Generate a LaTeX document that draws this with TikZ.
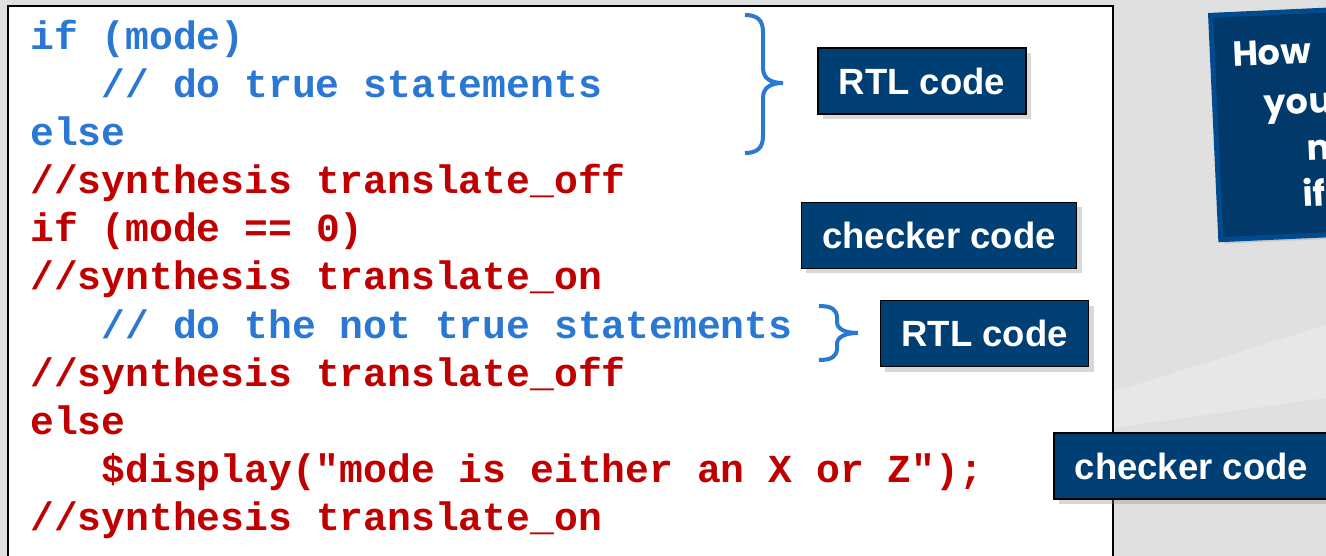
\documentclass[tikz,border=0pt]{standalone}
\usepackage{fontspec}
\setmainfont{Liberation Sans}
\newfontfamily\codefont{Liberation Mono}
\newfontfamily\notefont{Poppins}
\usetikzlibrary{shadows}
\definecolor{rtlblue}{HTML}{2A78D4}
\definecolor{chkred}{HTML}{C00000}
\definecolor{tagnavy}{HTML}{003F73}
\definecolor{notenavy}{HTML}{00396A}
\definecolor{noteedge}{HTML}{004A8E}

\begin{document}
\begin{tikzpicture}[x=1pt,y=-1pt,
  rtl/.style={font=\codefont\bfseries\fontsize{39.7}{40}\selectfont,text=rtlblue,anchor=base west,inner sep=0pt},
  chk/.style={rtl,text=chkred},
  tag/.style={draw=black,line width=1.5pt,fill=tagnavy,text=white,font=\bfseries\fontsize{36.5}{40}\selectfont,
    inner xsep=21pt,minimum height=66pt,drop shadow={shadow xshift=5pt,shadow yshift=-5pt,opacity=0.3}},
  curly/.style={draw=rtlblue,line width=4pt},
  notetext/.style={font=\notefont\bfseries\fontsize{35}{40}\selectfont,text=white,anchor=base west,inner sep=0pt,transform shape}]
    \clip (0,0) rectangle (1326,556);
    % slide background
    \fill[black!12] (0,0) rectangle (1326,556);
    \fill[black!9.5] (1113,392) -- (1326,325) -- (1326,398) -- (1113,428) -- cycle;
    % code listing
    \draw[line width=2.5pt,fill=white] (8,6) rectangle (1113,600);
    \node[rtl] (l1) at (30,50) {if (mode)};
    \node[rtl] (l2) at (101.4,98) {// do true statements};
    \node[rtl] (l3) at (30,146) {else};
    \node[chk] (l4) at (30,194) {//synthesis translate\_off};
    \node[chk] (l5) at (30,242) {if (mode == 0)};
    \node[chk] (l6) at (30,290) {//synthesis translate\_on};
    \node[rtl] (l7) at (101.4,338) {// do the not true statements};
    \node[chk] (l8) at (30,386) {//synthesis translate\_off};
    \node[chk] (l9) at (30,434) {else};
    \node[chk] (l10) at (101.4,482) {\$display("mode is either an X or Z");};
    \node[chk] (l11) at (30,530) {//synthesis translate\_on};
    % braces
    \draw[curly] (745,15) .. controls (757,15) and (763,20) .. (763,32) -- (763,68)
      .. controls (763,78) and (770,83) .. (783,83) .. controls (770,83) and (763,88) .. (763,98)
      -- (763,136) .. controls (763,148) and (757,153) .. (745,153);
    \draw[curly] (819,306) .. controls (831,306) and (837,309) .. (837,318) -- (837,322)
      .. controls (837,329) and (845,333) .. (858,333) .. controls (845,333) and (837,337) .. (837,344)
      -- (837,348) .. controls (837,357) and (831,360) .. (819,360);
    % labels
    \node[tag] (rtltag1) at (922,81) {RTL code};
    \node[tag] (chktag1) at (939,235.5) {checker code};
    \node[tag] (rtltag2) at (984.5,333.5) {RTL code};
    \node[tag,anchor=west] (chktag2) at (1053,466) {checker code};
    % note
    \begin{scope}[shift={(1208,13)},rotate=2.6]
    \path[draw=noteedge,fill=notenavy,line width=5pt,drop shadow={shadow xshift=3pt,shadow yshift=-4pt,opacity=0.25}]
      (2.5,2.5) rectangle (340,227);
    \node[notetext] (how) at (22.5,55) {How};
    \node[notetext] (you) at (52,104.5) {you};
    \node[notetext] (m) at (93,151.5) {m};
    \node[notetext] (if) at (86,198) {if};
    \end{scope}
\end{tikzpicture}
\end{document}
